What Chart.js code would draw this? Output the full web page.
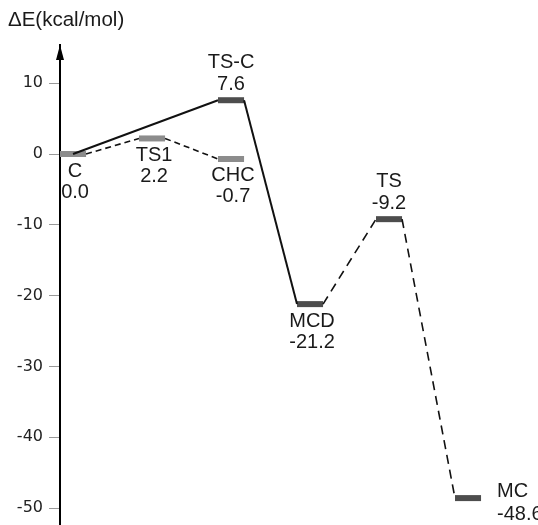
<!DOCTYPE html>
<html>
<head>
  <meta charset="UTF-8">
  <title>Energy profile</title>
  <script src="https://cdn.jsdelivr.net/npm/chart.js"></script>
  <style>
    body { margin: 0; background: white; }
    #wrap { width: 538px; height: 525px; position: relative; }
  </style>
</head>
<body>
  <div id="wrap"><canvas id="profile"></canvas></div>

  <script>
    // states of the profile, slot = horizontal position along the path
    const names    = ['C', 'TS1', 'CHC', 'TS-C', 'MCD', 'TS', 'MC'];
    const energies = [0.0, 2.2, -0.7, 7.6, -21.2, -9.2, -48.6];
    const valueLabels = ['0.0', '2.2', '-0.7', '7.6', '-21.2', '-9.2', '-48.6'];
    const slots    = [0, 1, 2, 2, 3, 4, 5];
    const labelSide = ['below', 'below', 'below', 'above', 'below', 'above', 'right'];
    const yTicks = [10, 0, -10, -20, -30, -40, -50];

    // connections between states: [from, to, kind]
    const links = [
      [0, 1, 'short'],
      [1, 2, 'short'],
      [0, 3, 'solid'],
      [3, 4, 'solid'],
      [4, 5, 'long'],
      [5, 6, 'long']
    ];

    const HALF = 0.165;
    const lightStates = ['C', 'TS1', 'CHC'];

    const datasets = [];

    links.forEach(([a, b, kind]) => {
      const startX = (a === 0 && b === 3) ? slots[a] : slots[a] + HALF;
      datasets.push({
        data: [{ x: startX, y: energies[a] }, { x: slots[b] - HALF, y: energies[b] }],
        borderColor: '#111',
        borderWidth: kind === 'solid' ? 2 : 1.6,
        borderDash: kind === 'short' ? [6, 4] : kind === 'long' ? [9, 6] : [],
        pointRadius: 0,
        showLine: true
      });
    });

    names.forEach((n, i) => {
      datasets.push({
        data: [{ x: slots[i] - HALF, y: energies[i] }, { x: slots[i] + HALF, y: energies[i] }],
        borderColor: lightStates.includes(n) ? '#8c8c8c' : '#4d4d4d',
        borderWidth: 6,
        borderCapStyle: 'butt',
        pointRadius: 0,
        showLine: true
      });
    });

    const labelPlugin = {
      id: 'stateLabels',
      afterDraw(chart) {
        const ctx = chart.ctx;
        const xs = chart.scales.x, ys = chart.scales.y;
        ctx.save();
        ctx.fillStyle = '#1a1a1a';
        ctx.font = '20px "Liberation Sans", Arial, sans-serif';
        ctx.textBaseline = 'middle';
        names.forEach((n, i) => {
          const cx = xs.getPixelForValue(slots[i]);
          const cy = ys.getPixelForValue(energies[i]);
          if (labelSide[i] === 'right') {
            ctx.textAlign = 'left';
            const rx = xs.getPixelForValue(slots[i] + HALF) + 16;
            ctx.fillText(n, rx, cy - 7);
            ctx.fillText(valueLabels[i], rx, cy + 16);
          } else if (labelSide[i] === 'above') {
            ctx.textAlign = 'center';
            ctx.fillText(n, cx, cy - 38);
            ctx.fillText(valueLabels[i], cx, cy - 16);
          } else {
            ctx.textAlign = 'center';
            ctx.fillText(n, cx + 2, cy + 17);
            ctx.fillText(valueLabels[i], cx + 2, cy + 38);
          }
        });

        // axis title and arrow head
        ctx.textAlign = 'left';
        ctx.font = '20.5px "Liberation Sans", Arial, sans-serif';
        ctx.fillText('\u0394E(kcal/mol)', 8, 20);
        const ax = chart.chartArea.left;
        const top = chart.chartArea.top;
        ctx.fillStyle = '#000';
        ctx.beginPath();
        ctx.moveTo(ax, top);
        ctx.lineTo(ax - 4, top + 15);
        ctx.lineTo(ax + 4, top + 15);
        ctx.closePath();
        ctx.fill();
        ctx.restore();
      }
    };

    new Chart(document.getElementById('profile'), {
      type: 'scatter',
      data: { datasets },
      options: {
        responsive: true,
        maintainAspectRatio: false,
        animation: false,
        layout: { padding: { top: 45, right: 0, bottom: 0, left: 0 } },
        plugins: {
          legend: { display: false },
          tooltip: { enabled: false }
        },
        scales: {
          x: {
            type: 'linear',
            display: false,
            min: -0.165,
            max: 5.886
          },
          y: {
            type: 'linear',
            min: -52.4,
            max: 15.4,
            afterFit(scale) {
              scale.width = 60;
              scale.paddingTop = 0;
              scale.paddingBottom = 0;
            },
            afterBuildTicks(scale) { scale.ticks = yTicks.map(v => ({ value: v })); },
            border: { display: true, color: '#000', width: 2 },
            grid: {
              drawOnChartArea: false,
              drawTicks: true,
              tickLength: 11,
              color: '#999'
            },
            ticks: {
              padding: 6,
              color: '#222',
              font: { family: '"DejaVu Sans", sans-serif', size: 16 }
            }
          }
        }
      },
      plugins: [labelPlugin]
    });
  </script>
</body>
</html>
